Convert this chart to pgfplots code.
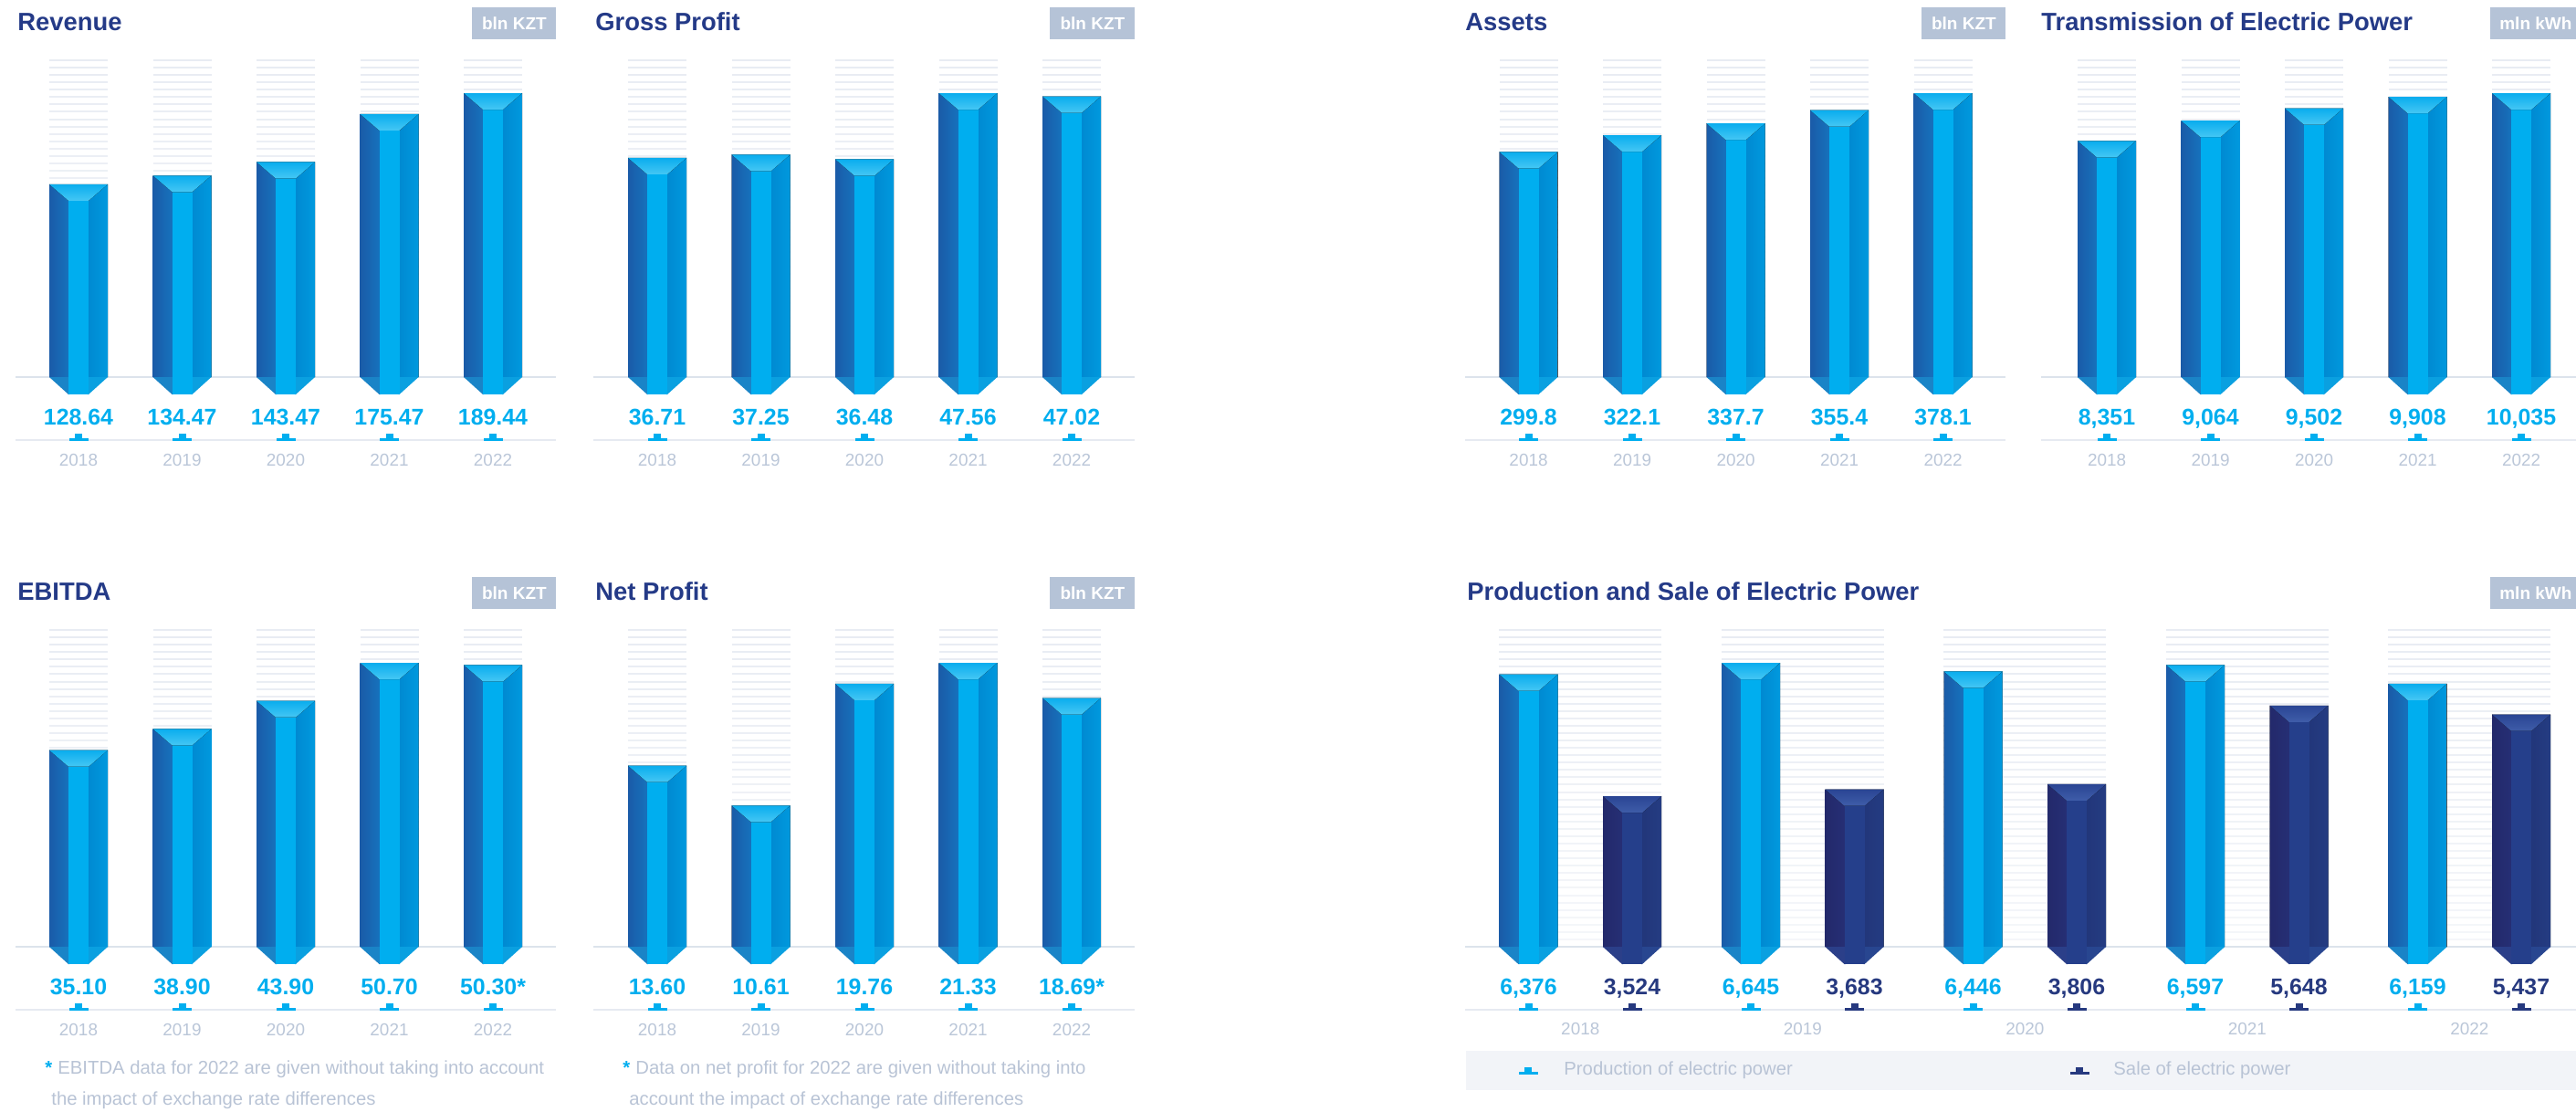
\documentclass[border=0pt]{standalone}
\usepackage{pgfplots}
\pgfplotsset{compat=1.18}
\usepackage{pgfplotstable}
\usepackage{fontspec}
\setmainfont{Liberation Sans}

\definecolor{navy}{HTML}{243A87}
\definecolor{boxc}{HTML}{B5C3D7}
\definecolor{yearc}{HTML}{BAC6D8}
\definecolor{footc}{HTML}{B8C3D5}
\definecolor{basec}{HTML}{DCE3EC}
\definecolor{tickc}{HTML}{E6EAF1}
\definecolor{stripec}{HTML}{E8ECF3}
\definecolor{legc}{HTML}{F2F4F8}
\definecolor{cL1}{HTML}{1A5BA8}
\definecolor{cL2}{HTML}{1673BD}
\definecolor{cM}{HTML}{00AEEF}
\definecolor{cR1}{HTML}{0089D1}
\definecolor{cR2}{HTML}{0099DE}
\definecolor{cT1}{HTML}{0AADEE}
\definecolor{cT2}{HTML}{45C7F4}
\definecolor{cBL}{HTML}{1A84C7}
\definecolor{cBR}{HTML}{0AA0E0}
\definecolor{cLab}{HTML}{00AEEF}
\definecolor{nL1}{HTML}{23296B}
\definecolor{nL2}{HTML}{262F75}
\definecolor{nM}{HTML}{253F8B}
\definecolor{nR1}{HTML}{22367A}
\definecolor{nR2}{HTML}{243C82}
\definecolor{nT1}{HTML}{2A4594}
\definecolor{nT2}{HTML}{3F5DA9}
\definecolor{nBL}{HTML}{2B3F89}
\definecolor{nBR}{HTML}{284690}
\definecolor{nLab}{HTML}{26397F}

\newcommand\myfs[1]{\fontsize{#1}{#1}\selectfont}
\pgfdeclareplotmark{none0}{}

% ---------------- data ----------------
\pgfplotstableread{
x v lbl yr
0 128.64 128.64 2018
1 134.47 134.47 2019
2 143.47 143.47 2020
3 175.47 175.47 2021
4 189.44 189.44 2022
}\revtab
\pgfplotstableread{
x v lbl yr
0 36.71 36.71 2018
1 37.25 37.25 2019
2 36.48 36.48 2020
3 47.56 47.56 2021
4 47.02 47.02 2022
}\grosstab
\pgfplotstableread{
x v lbl yr
0 299.8 299.8 2018
1 322.1 322.1 2019
2 337.7 337.7 2020
3 355.4 355.4 2021
4 378.1 378.1 2022
}\assettab
\pgfplotstableread{
x v lbl yr
0 8351 8,351 2018
1 9064 9,064 2019
2 9502 9,502 2020
3 9908 9,908 2021
4 10035 10,035 2022
}\transtab
\pgfplotstableread{
x v lbl yr
0 35.10 35.10 2018
1 38.90 38.90 2019
2 43.90 43.90 2020
3 50.70 50.70 2021
4 50.30 50.30* 2022
}\ebitdatab
\pgfplotstableread{
x v lbl yr
0 13.60 13.60 2018
1 10.61 10.61 2019
2 19.76 19.76 2020
3 21.33 21.33 2021
4 18.69 18.69* 2022
}\nettab
\pgfplotstableread{
x v lbl yr
0 6376 6,376 2018
1 6645 6,645 2019
2 6446 6,446 2020
3 6597 6,597 2021
4 6159 6,159 2022
}\prodtab
\pgfplotstableread{
x v lbl yr
0 3524 3,524 2018
1 3683 3,683 2019
2 3806 3,806 2020
3 5648 5,648 2021
4 5437 5,437 2022
}\saletab

% ---------------- drawing helpers ----------------
\newcommand\stripes[1]{%
  \foreach \k in {0,...,42}{%
    \pgfmathsetmacro\pc{100-\k*1.3}%
    \fill[draw=none,stripec!\pc!white] (-#1,{173.5pt-\k*4.035pt-0.5pt}) rectangle (#1,{173.5pt-\k*4.035pt+0.5pt});}}

% origin at the bar top; #1 palette, #2 x offset (number, pt)
\newcommand\prismcode[2]{%
  \pgfmathsetmacro\yB{-\pgfplotspointmetatransformed*0.1555}%
  \pgfmathsetmacro\yBB{\yB-9.5}%
  \pgfmathsetmacro\xL{#2-16}%
  \pgfmathsetmacro\xl{#2-5.5}%
  \pgfmathsetmacro\xr{#2+5.5}%
  \pgfmathsetmacro\xR{#2+16}%
  \pgfmathsetmacro\xlo{#2-5}%
  \pgfmathsetmacro\xro{#2+5}%
  \fill[draw=none,left color=#1L1,right color=#1L2] (\xL pt,0pt) -- (\xlo pt,-9.4pt) -- (\xlo pt,\yB pt) -- (\xL pt,\yB pt) -- cycle;
  \fill[draw=none,#1BL] (\xL pt,\yB pt) -- (\xlo pt,\yB pt) -- (\xlo pt,\yBB pt) -- (\xl pt,\yBB pt) -- cycle;
  \fill[draw=none,left color=#1R1,right color=#1R2] (\xR pt,0pt) -- (\xro pt,-9.4pt) -- (\xro pt,\yB pt) -- (\xR pt,\yB pt) -- cycle;
  \fill[draw=none,#1BR] (\xR pt,\yB pt) -- (\xro pt,\yB pt) -- (\xro pt,\yBB pt) -- (\xr pt,\yBB pt) -- cycle;
  \fill[draw=none,#1M] (\xl pt,\yBB pt) rectangle (\xr pt,-8.6pt);
  \fill[draw=none,top color=#1T1,bottom color=#1T2] (\xL pt,0pt) -- (\xR pt,0pt) -- (\xr pt,-9pt) -- (\xl pt,-9pt) -- cycle;
}

\pgfplotsset{
  panel/.style={anchor=south west, x=56.75pt, xmin=-0.5, xmax=4.5, ymin=0,
    hide axis, clip=false, scale only axis, point meta min=0},
  bars/.style 2 args={% #1 palette, #2 x offset
    scatter, only marks, mark=none0, point meta=y,
    scatter/@pre marker code/.code={\prismcode{#1}{#2}},
    scatter/@post marker code/.code={}},
  stripeplot/.style={% #1 half width
    scatter, only marks, mark=none0, point meta=y,
    scatter/@pre marker code/.code={\stripes{#1}},
    scatter/@post marker code/.code={}},
  labs/.style 2 args={% #1 palette, #2 x offset
    scatter, only marks, mark=none0, point meta=explicit symbolic,
    scatter/@pre marker code/.code={%
      \node[anchor=base,inner sep=0pt,text=#1Lab,font=\bfseries\myfs{12.45}] at (#2pt,-26pt) {\pgfplotspointmeta};
      \fill[draw=none,#1Lab] (#2pt-2pt,-31pt) rectangle (#2pt+2pt,-35pt);
      \fill[draw=none,#1Lab] (#2pt-5.25pt,-33.5pt) rectangle (#2pt+5.25pt,-35pt);},
    scatter/@post marker code/.code={}},
  years/.style={% #1 y offset
    scatter, only marks, mark=none0, point meta=explicit symbolic,
    scatter/@pre marker code/.code={%
      \node[anchor=base,inner sep=0pt,text=yearc,font=\myfs{9.45}] at (0pt,#1) {\pgfplotspointmeta};},
    scatter/@post marker code/.code={}},
}

\tikzset{
  ttl/.style={anchor=base west, inner sep=0pt, text=navy, font=\bfseries\myfs{13.7}},
  unitbox/.style={anchor=north west, fill=boxc, text=white, font=\bfseries\myfs{9.5},
    inner sep=0pt, minimum height=17.5pt},
  foot/.style={anchor=base west, inner sep=0pt, text=footc, font=\myfs{10.15}},
}

\newcommand\singlepanel[1]{%
  \addplot[stripeplot=16pt] table[x=x,y expr=0] {#1};
  \addplot[bars={c}{0}] table[x=x,y=v] {#1};
  \addplot[labs={c}{0}] table[x=x,y expr=0,meta=lbl] {#1};
  \addplot[years=-48.5pt] table[x=x,y expr=0,meta=yr] {#1};
}

\begin{document}
\begin{tikzpicture}
\useasboundingbox (0pt,0pt) rectangle (1411pt,-608.5pt);

% base lines and tick lines
\foreach \a/\b in {8.5/304.5, 325/621.5, 802.5/1098.5, 1118/1411}{
  \fill[basec] (\a pt,-205.9pt) rectangle (\b pt,-207.1pt);
  \fill[tickc] (\a pt,-240.6pt) rectangle (\b pt,-241.6pt);
}
\foreach \a/\b in {8.5/304.5, 325/621.5, 802.5/1411}{
  \fill[basec] (\a pt,-517.9pt) rectangle (\b pt,-519.1pt);
  \fill[tickc] (\a pt,-552.6pt) rectangle (\b pt,-553.6pt);
}

% titles
\node[ttl] at (9.5pt,-16.5pt) {Revenue};
\node[ttl] at (326pt,-16.5pt) {Gross Profit};
\node[ttl] at (802.5pt,-16.5pt) {Assets};
\node[ttl] at (1118pt,-16.5pt) {Transmission of Electric Power};
\node[ttl] at (9.5pt,-328.5pt) {EBITDA};
\node[ttl] at (326pt,-328.5pt) {Net Profit};
\node[ttl] at (803.5pt,-328.5pt) {Production and Sale of Electric Power};

% unit boxes
\node[unitbox, minimum width=46pt] at (258.5pt,-4pt) {bln KZT};
\node[unitbox, minimum width=46.5pt] at (575pt,-4pt) {bln KZT};
\node[unitbox, minimum width=46pt] at (1052.5pt,-4pt) {bln KZT};
\node[unitbox, minimum width=49.5pt] at (1364pt,-4pt) {mln kWh};
\node[unitbox, minimum width=46pt] at (258.5pt,-316pt) {bln KZT};
\node[unitbox, minimum width=46.5pt] at (575pt,-316pt) {bln KZT};
\node[unitbox, minimum width=49.5pt] at (1364pt,-316pt) {mln kWh};

% ---------- panels ----------
\pgfmathsetmacro\yu{155.5/189.44}
\begin{axis}[panel, at={(14.625pt,-206.5pt)}, y=\yu pt, ymax=230, point meta max=189.44]
\singlepanel{\revtab}
\end{axis}

\pgfmathsetmacro\yu{155.5/47.56}
\begin{axis}[panel, at={(331.625pt,-206.5pt)}, y=\yu pt, ymax=58, point meta max=47.56]
\singlepanel{\grosstab}
\end{axis}

\pgfmathsetmacro\yu{155.5/378.1}
\begin{axis}[panel, at={(808.875pt,-206.5pt)}, y=\yu pt, ymax=460, point meta max=378.1]
\singlepanel{\assettab}
\end{axis}

\pgfmathsetmacro\yu{155.5/10035}
\begin{axis}[panel, at={(1125.625pt,-206.5pt)}, y=\yu pt, ymax=12200, point meta max=10035]
\singlepanel{\transtab}
\end{axis}

\pgfmathsetmacro\yu{155.5/50.70}
\begin{axis}[panel, at={(14.625pt,-518.5pt)}, y=\yu pt, ymax=62, point meta max=50.70]
\singlepanel{\ebitdatab}
\end{axis}

\pgfmathsetmacro\yu{155.5/21.33}
\begin{axis}[panel, at={(331.625pt,-518.5pt)}, y=\yu pt, ymax=26, point meta max=21.33]
\singlepanel{\nettab}
\end{axis}

\pgfmathsetmacro\yu{155.5/6645}
\begin{axis}[panel, x=121.75pt, at={(804.75pt,-518.5pt)}, y=\yu pt, ymax=8100, point meta max=6645]
\addplot[stripeplot=44.5pt] table[x=x,y expr=0] {\prodtab};
\addplot[bars={c}{-28.375}] table[x=x,y=v] {\prodtab};
\addplot[bars={n}{28.375}] table[x=x,y=v] {\saletab};
\addplot[labs={c}{-28.375}] table[x=x,y expr=0,meta=lbl] {\prodtab};
\addplot[labs={n}{28.375}] table[x=x,y expr=0,meta=lbl] {\saletab};
\addplot[years=-48pt] table[x=x,y expr=0,meta=yr] {\prodtab};
\end{axis}

% footnotes
\node[anchor=base west, inner sep=0pt, text=cLab, font=\bfseries\myfs{10.15}] at (24.5pt,-588pt) {*};
\node[foot] at (31.5pt,-588pt) {EBITDA data for 2022 are given without taking into account};
\node[foot] at (28pt,-605pt) {the impact of exchange rate differences};
\node[anchor=base west, inner sep=0pt, text=cLab, font=\bfseries\myfs{10.15}] at (341pt,-588pt) {*};
\node[foot] at (348pt,-588pt) {Data on net profit for 2022 are given without taking into};
\node[foot] at (344.5pt,-605pt) {account the impact of exchange rate differences};

% legend
\fill[legc] (803pt,-575.5pt) rectangle (1411pt,-597pt);
\fill[cLab] (835pt,-584.5pt) rectangle (839pt,-588.5pt);
\fill[cLab] (831.75pt,-587pt) rectangle (842.25pt,-588.5pt);
\node[foot] at (856.5pt,-588.5pt) {Production of electric power};
\fill[nLab] (1137pt,-584.5pt) rectangle (1141pt,-588.5pt);
\fill[nLab] (1133.75pt,-587pt) rectangle (1144.25pt,-588.5pt);
\node[foot] at (1157.5pt,-588.5pt) {Sale of electric power};
\end{tikzpicture}
\end{document}
